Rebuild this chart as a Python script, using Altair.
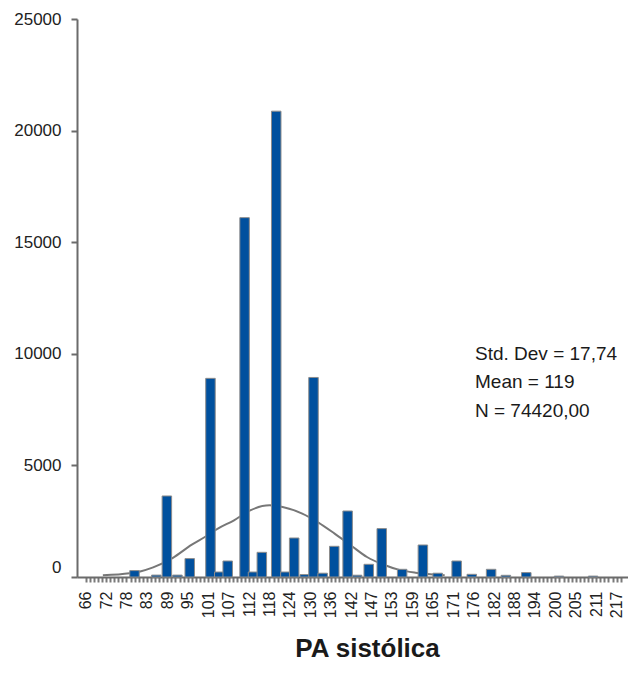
import altair as alt
import pandas as pd

# ---- data ----
bin_centers = [79.9, 86.1, 89.1, 92.1, 95.6, 101.5, 104.0, 106.4, 111.2, 113.6,
               116.1, 120.2, 122.8, 125.3, 128.3, 130.8, 133.4, 136.7, 140.5, 143.2,
               146.5, 150.2, 156.0, 161.9, 166.1, 171.5, 175.8, 181.3, 185.5, 191.3,
               200.6, 210.3]
counts = [287, 85, 3630, 85, 824, 8900, 224, 717, 16100, 224,
          1106, 20870, 224, 1748, 108, 8940, 170, 1375, 2957, 80,
          569, 2168, 345, 1434, 170, 717, 121, 345, 76, 197,
          40, 40]

curve_x = [70.9, 78.5, 81.5, 85.2, 90.7, 96.2, 99.9, 103.6, 108.2, 112.8, 118.3,
           122.0, 127.6, 132.2, 136.8, 141.4, 146.0, 150.6, 155.2, 159.8, 168.1]
curve_y = [80, 170, 250, 430, 850, 1450, 1792, 2168, 2540, 2988, 3212,
           3136, 2840, 2437, 1944, 1420, 896, 560, 320, 190, 80]

x_labels = [66, 72, 78, 83, 89, 95, 101, 107, 112, 118, 124, 130, 136, 142,
            147, 153, 159, 165, 171, 176, 182, 188, 194, 200, 205, 211, 217]
y_ticks = [0, 5000, 10000, 15000, 20000, 25000]
stats_lines = ["Std. Dev = 17,74", "Mean = 119", "N = 74420,00"]
x_title = "PA sistólica"

bars_df = pd.DataFrame({"x": bin_centers, "count": counts})
curve_df = pd.DataFrame({"x": curve_x, "count": curve_y})

# ---- axis construction (5 minor ticks per labelled step) ----
x_min_dom, x_max_dom = 64.97, 218.8
step = (x_labels[-1] - x_labels[0]) / ((len(x_labels) - 1) * 5)
tick_vals = []
k = 0
while x_labels[0] + k * step <= x_max_dom + 1e-6:
    tick_vals.append(round(x_labels[0] + k * step, 4))
    k += 1
lab_arr = "[" + ",".join("'%d'" % v for v in x_labels) + "]"
idx = "round((datum.value - %s) / %s)" % (x_labels[0], step)
label_expr = "(%s %% 5 == 0 && %s / 5 < %d) ? %s[%s / 5] : ''" % (
    idx, idx, len(x_labels), lab_arr, idx)

AX_COLOR = "#6b6b6b"

x_axis = alt.Axis(
    values=tick_vals, labelExpr=label_expr, labelAngle=270, labelAlign="right",
    labelBaseline="middle", labelFont="Liberation Sans", labelFontSize=16,
    labelColor="#222222", labelPadding=9, labelOverlap=False, labelFlush=False,
    labelBound=False,
    tickSize=5, tickWidth=2, tickColor="#7a7a7a", domainColor=AX_COLOR,
    domainWidth=2, title=x_title, titleFont="Liberation Sans", titleFontSize=26,
    titleFontWeight="bold", titleColor="#1a1a1a", titlePadding=18, grid=False,
    titleX=290, titleAlign="center",
)
y_axis = alt.Axis(
    values=y_ticks, format="d", labelFont="Liberation Sans", labelFontSize=17,
    labelColor="#222222", labelPadding=10, tickSize=6, tickWidth=2,
    tickColor=AX_COLOR, domainColor=AX_COLOR, domainWidth=2, title=None,
    grid=False,
    labelOffset={"condition": {"test": "datum.value === 0", "value": -10}, "value": 0},
)

x_scale = alt.Scale(domain=[x_min_dom, x_max_dom], nice=False, zero=False)
y_scale = alt.Scale(domain=[0, 25000], nice=False)

curve = alt.Chart(curve_df).mark_line(
    color="#777777", strokeWidth=2, interpolate="monotone"
).encode(
    x=alt.X("x:Q", scale=x_scale, axis=x_axis),
    y=alt.Y("count:Q", scale=y_scale, axis=y_axis),
)

bars = alt.Chart(bars_df).mark_bar(
    size=9.5, color="#00509e", stroke="#8c8c8c", strokeWidth=1
).encode(
    x=alt.X("x:Q", scale=x_scale, axis=x_axis),
    y=alt.Y("count:Q", scale=y_scale, axis=y_axis),
)

stats = alt.Chart(alt.Data(values=[{}])).mark_text(
    align="left", baseline="alphabetic", font="Liberation Sans",
    fontSize=19, lineHeight=28.3, color="#1a1a1a"
).encode(
    x=alt.value(398), y=alt.value(341), text=alt.value(stats_lines)
)

chart = alt.layer(curve, bars, stats).properties(
    width=551, height=558,
    autosize=alt.AutoSizeParams(type="none"),
    padding={"left": 69, "top": 11, "right": 0, "bottom": 100},
).configure_view(stroke=None)

chart.save("out.html", embed_options={"renderer": "svg", "actions": False})
